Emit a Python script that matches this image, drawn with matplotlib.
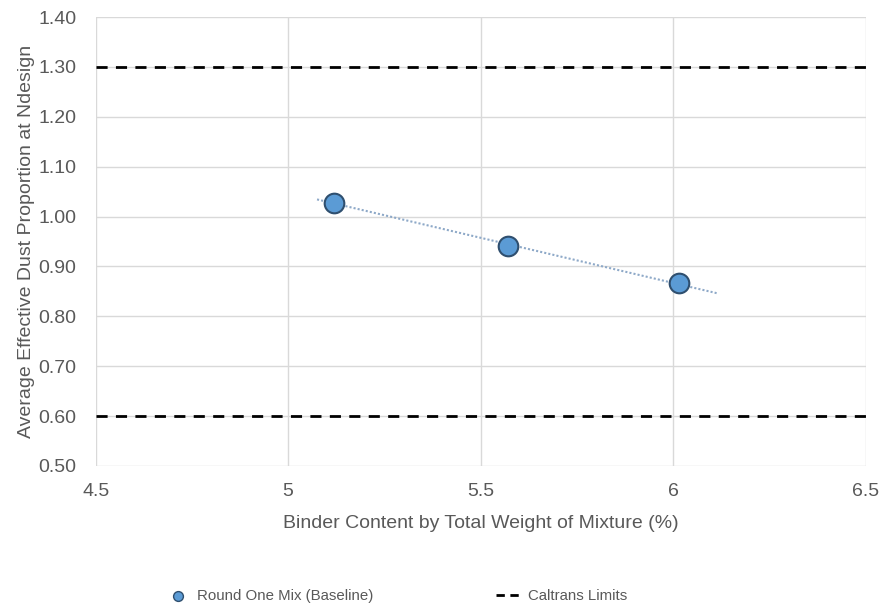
import matplotlib.pyplot as plt
import numpy as np

plt.rcParams['font.family'] = ['Liberation Sans', 'DejaVu Sans']

binder = [5.12, 5.57, 6.015]
dust = [1.028, 0.941, 0.866]
limits = [0.60, 1.30]
xticks = [4.5, 5, 5.5, 6, 6.5]
yticks = [0.5, 0.6, 0.7, 0.8, 0.9, 1.0, 1.1, 1.2, 1.3, 1.4]

grey = '#595959'
fig = plt.figure(figsize=(8.86, 6.09), dpi=100)
ax = fig.add_axes([0.108, 0.235, 0.869, 0.737])

# linear trendline, extended a bit like Excel's
m, b = np.polyfit(binder, dust, 1)
tx = np.array([binder[0] - 0.045, binder[-1] + 0.1])
ax.plot(tx, m * tx + b, ls=(0, (1, 1)), color='#8ea9c8', lw=1.5, zorder=2)

for v in limits:
    ax.axhline(v, color='black', ls=(0, (4, 3)), lw=2, zorder=3)

ax.scatter(binder, dust, s=200, color='#5b9bd5', edgecolor='#2f4f6f', lw=1.5, zorder=4)

ax.set_xlim(4.5, 6.5)
ax.set_ylim(0.5, 1.4)
ax.set_xticks(xticks)
ax.set_xticklabels([str(t) for t in xticks])
ax.set_yticks(yticks)
ax.set_yticklabels(['%.2f' % t for t in yticks])
ax.grid(True, color='#d9d9d9', lw=1)
ax.set_axisbelow(True)
for s in ax.spines.values():
    s.set_visible(False)
ax.tick_params(length=0, labelsize=14, colors=grey)
ax.tick_params(axis='x', pad=12)
ax.tick_params(axis='y', pad=14)

ax.set_xlabel('Binder Content by Total Weight of Mixture (%)', fontsize=14, color=grey, labelpad=11)
ax.set_ylabel('Average Effective Dust Proportion at Ndesign', fontsize=14, color=grey, labelpad=2)

h1 = ax.scatter([], [], s=50, color='#5b9bd5', edgecolor='#2f4f6f', lw=1)
h2, = ax.plot([], [], color='black', ls=(0, (3, 2)), lw=2)
fig.legend([h1, h2], ['Round One Mix (Baseline)', 'Caltrans Limits'], loc='center',
           bbox_to_anchor=(0.447, 0.021), ncol=2, frameon=False, fontsize=10.8,
           columnspacing=8.2, handlelength=1.8, handletextpad=0.35, labelcolor=grey)

fig.savefig('out.png', dpi=100)
